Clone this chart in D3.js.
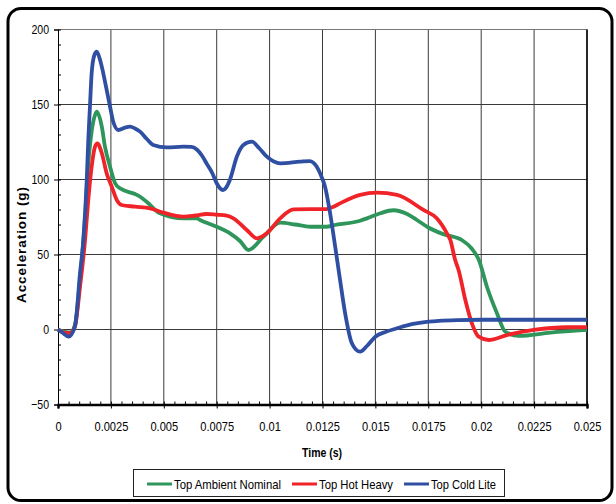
<!DOCTYPE html>
<html>
<head>
<meta charset="utf-8">
<script src="https://cdn.jsdelivr.net/npm/d3@7"></script>
<style>
  body { margin: 0; background: #fff; }
  svg text { font-family: "Liberation Sans", Arial, sans-serif; }
</style>
</head>
<body>
<svg width="616" height="504"></svg>
<script>
// values: [time (s), acceleration (g)]
var ambientNominal = [[0,0],[0.000175,-1],[0.00057,-2],[0.0008,3],[0.00104,33],[0.00128,75],[0.00143,110],
  [0.00159,132],[0.00175,143],[0.00183,145.2],[0.00207,135.2],[0.00222,121.9],[0.00246,108.5],[0.0027,97.5],
  [0.00293,94.1],[0.00364,90.3],[0.00388,88.5],[0.0042,85],[0.00482,77.5],[0.00593,74.1],[0.00656,74.1],
  [0.00671,73],[0.0075,68.5],[0.00813,64.1],[0.0086,59],[0.009,53],[0.00971,61.9],[0.0105,71.2],[0.0112,70],
  [0.01192,68.5],[0.0127,68.5],[0.01302,69.5],[0.01428,72.5],[0.0146,74.1],[0.01523,77.5],[0.01585,79.5],
  [0.0165,77],[0.01696,73],[0.0175,68],[0.01822,63.5],[0.0191,59.5],[0.01955,54],[0.0199,46],
  [0.02027,28.5],[0.02074,11],[0.02114,-1.5],[0.02177,-4.3],[0.02327,-2.1],[0.025,-0.3]];

var hotHeavy = [[0,0],[0.000175,-1.5],[0.00057,-2.5],[0.0008,2],[0.00104,28.5],[0.00128,59.7],[0.00143,86.3],
  [0.00159,108.5],[0.00175,121.9],[0.00186,124.1],[0.00207,117.5],[0.0023,104.1],[0.00254,95.2],[0.00278,86.3],
  [0.00301,83],[0.00364,81.9],[0.00435,80.8],[0.00498,77.9],[0.00593,75.2],[0.0065,76],[0.00703,77],
  [0.0075,76.5],[0.00797,75.9],[0.00829,74.1],[0.00892,66.3],[0.0094,60.8],[0.00987,64.1],[0.0105,74.1],
  [0.01113,80.1],[0.0127,80.3],[0.01302,81.9],[0.01333,84.1],[0.01428,89.7],[0.01507,91.2],[0.01602,89.7],
  [0.01727,79.7],[0.0179,74.1],[0.01838,64.1],[0.01854,59.7],[0.01877,46.3],[0.01893,39.7],[0.01925,19.7],
  [0.01956,4.1],[0.01988,-4.8],[0.02035,-7],[0.02122,-3.7],[0.02248,-0.3],[0.02405,1.5],[0.025,1.5]];

var coldLite = [[0,0],[0.0002,-2],[0.0005,-4.8],[0.0008,2],[0.00104,37.5],[0.0012,60],[0.00136,100],
  [0.00143,126],[0.00151,148.5],[0.00159,170.8],[0.00172,183],[0.00183,185.2],[0.00199,179.7],[0.00214,170.8],
  [0.0023,159.7],[0.00246,148.5],[0.00261,138.5],[0.00285,133],[0.00317,134.6],[0.0034,135.2],[0.00364,134],
  [0.00388,131.9],[0.0042,127],[0.0045,123],[0.00514,121.4],[0.00593,121.9],[0.0063,121.8],[0.00656,120],
  [0.0068,116],[0.00703,110.5],[0.0073,104],[0.0075,97.5],[0.00766,94.1],[0.0078,93],[0.00794,94.5],
  [0.00813,100],[0.00845,115.2],[0.00876,123],[0.00916,125.2],[0.0095,121],[0.00987,115.2],[0.0102,112],
  [0.0105,110.8],[0.01144,111.9],[0.0119,112.3],[0.01223,108.5],[0.01245,102],[0.01262,95.2],[0.01286,77.5],
  [0.0131,55.2],[0.01333,33],[0.01357,10.8],[0.01389,-9.2],[0.01428,-14.8],[0.0146,-11],[0.015,-4.8],
  [0.0155,-1.5],[0.01602,0.8],[0.0165,2.8],[0.017,4.2],[0.01751,5.2],[0.018,5.8],[0.01885,6.3],[0.02,6.5],
  [0.022,6.5],[0.025,6.5]];

var seriesNames = ['Top Ambient Nominal', 'Top Hot Heavy', 'Top Cold Lite'];
var seriesColors = ['#2e955b', '#ef2328', '#2f4fa3'];
var xTicks = [0, 0.0025, 0.005, 0.0075, 0.01, 0.0125, 0.015, 0.0175, 0.02, 0.0225, 0.025];
var yTicks = [-50, 0, 50, 100, 150, 200];

var svg = d3.select('svg');

// squeeze text to look like the narrow font of the original
function narrow(sel, factor) {
  sel.each(function() {
    var w = this.getComputedTextLength();
    d3.select(this).attr('textLength', w * factor).attr('lengthAdjust', 'spacingAndGlyphs');
  });
}

// outer rounded frame
svg.append('rect')
  .attr('x', 8).attr('y', 8.5)
  .attr('width', 604).attr('height', 492)
  .attr('rx', 13)
  .attr('fill', 'none')
  .attr('stroke', '#000')
  .attr('stroke-width', 3);

var xScale = d3.scaleLinear().domain([0, 0.025]).range([58, 587]);
var yScale = d3.scaleLinear().domain([-50, 200]).range([404.5, 29.5]);

// grid
svg.append('g').selectAll('line')
  .data(xTicks.slice(1))
  .enter().append('line')
  .attr('x1', function(d) { return xScale(d); })
  .attr('x2', function(d) { return xScale(d); })
  .attr('y1', yScale(200)).attr('y2', yScale(-50))
  .attr('stroke', '#3a3a3a').attr('stroke-width', 1);

svg.append('g').selectAll('line')
  .data(yTicks.slice(1))
  .enter().append('line')
  .attr('x1', xScale(0)).attr('x2', xScale(0.025))
  .attr('y1', function(d) { return yScale(d); })
  .attr('y2', function(d) { return yScale(d); })
  .attr('stroke', function(d) { return d == 200 ? '#777' : '#3a3a3a'; })
  .attr('stroke-width', 1);

// right border
svg.append('line')
  .attr('x1', xScale(0.025)).attr('x2', xScale(0.025))
  .attr('y1', yScale(200)).attr('y2', yScale(-50))
  .attr('stroke', '#000').attr('stroke-width', 1.5);

// y axis
var yAxis = d3.axisLeft(yScale).tickValues(yTicks).tickSize(4).tickPadding(5);
var gy = svg.append('g').attr('transform', 'translate(' + xScale(0) + ',0)').call(yAxis);
gy.select('.domain').attr('stroke', '#000');
gy.selectAll('text').attr('font-size', 13.5).attr('fill', '#000').call(narrow, 0.78);

var yMinor = d3.axisRight(yScale).tickValues(d3.range(-50, 201, 10)).tickSize(3).tickFormat('');
var gym = svg.append('g').attr('transform', 'translate(' + xScale(0) + ',0)').call(yMinor);
gym.select('.domain').remove();

// x axis
var xAxis = d3.axisBottom(xScale).tickValues(xTicks).tickSize(4).tickPadding(13)
  .tickFormat(function(d) { return d == 0 ? '0' : String(+d.toFixed(4)); });
var gx = svg.append('g').attr('transform', 'translate(0,' + yScale(-50) + ')').call(xAxis);
gx.select('.domain').attr('stroke', '#000').attr('stroke-width', 2.5);
gx.selectAll('text').attr('font-size', 13.5).attr('fill', '#000').call(narrow, 0.82);

var xMinor = d3.axisTop(xScale).tickValues(d3.range(0, 0.02501, 0.0005)).tickSize(3).tickFormat('');
var gxm = svg.append('g').attr('transform', 'translate(0,' + yScale(-50) + ')').call(xMinor);
gxm.select('.domain').remove();

// axis titles
svg.append('text')
  .attr('x', 322).attr('y', 457)
  .attr('text-anchor', 'middle')
  .attr('font-size', 13.5).attr('font-weight', 'bold')
  .text('Time (s)')
  .attr('textLength', 40).attr('lengthAdjust', 'spacingAndGlyphs');

svg.append('text')
  .attr('transform', 'translate(26,245) rotate(-90)')
  .attr('text-anchor', 'middle')
  .attr('font-size', 13.5).attr('font-weight', 'bold')
  .text('Acceleration (g)')
  .attr('textLength', 116).attr('lengthAdjust', 'spacing');

// curves
var line = d3.line()
  .x(function(d) { return xScale(d[0]); })
  .y(function(d) { return yScale(d[1]); })
  .curve(d3.curveMonotoneX);

var allSeries = [ambientNominal, hotHeavy, coldLite];
svg.append('g').selectAll('path')
  .data(allSeries)
  .enter().append('path')
  .attr('d', line)
  .attr('fill', 'none')
  .attr('stroke', function(d, i) { return seriesColors[i]; })
  .attr('stroke-width', 3.8)
  .attr('stroke-linejoin', 'round');

// legend
svg.append('rect')
  .attr('x', 133.5).attr('y', 469.5)
  .attr('width', 371).attr('height', 27)
  .attr('fill', '#fff')
  .attr('stroke', '#222').attr('stroke-width', 1);

var legendX = [147, 292, 404];
var legendW = [107, 74, 65];
var legend = svg.append('g').selectAll('g')
  .data(seriesNames)
  .enter().append('g')
  .attr('transform', function(d, i) { return 'translate(' + legendX[i] + ',484)'; });

legend.append('line')
  .attr('x1', 0).attr('x2', 25)
  .attr('stroke', function(d, i) { return seriesColors[i]; })
  .attr('stroke-width', 3);

legend.append('text')
  .attr('x', 27).attr('y', 5)
  .attr('font-size', 13.5)
  .text(function(d) { return d; })
  .attr('textLength', function(d, i) { return legendW[i]; })
  .attr('lengthAdjust', 'spacingAndGlyphs');
</script>
</body>
</html>
